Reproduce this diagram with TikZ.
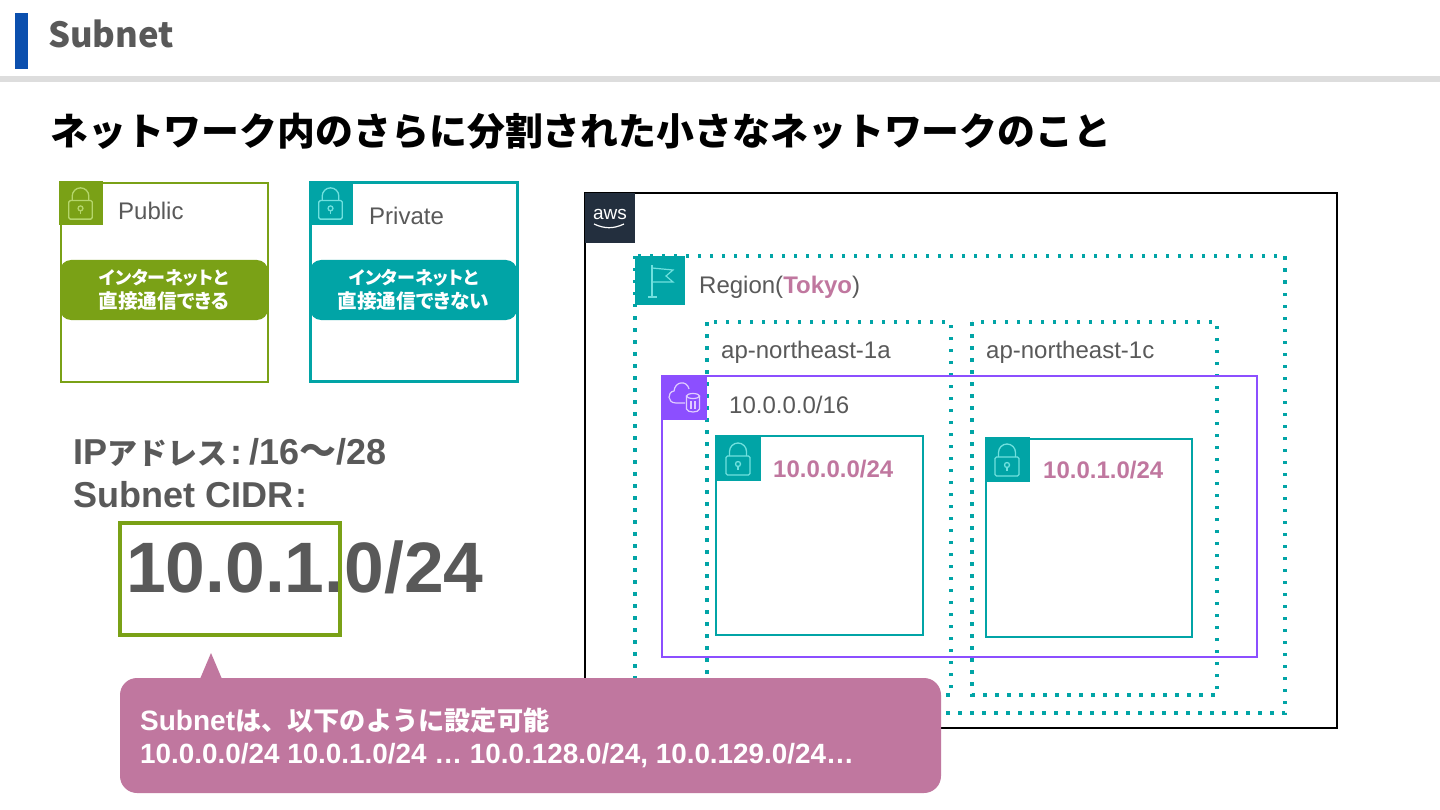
\documentclass[tikz,border=0pt]{standalone}
\usepackage{fontspec}
\setmainfont{Liberation Sans}
\newfontfamily\cjk{Noto Sans CJK JP}
\newfontfamily\cjkp[RawFeature=+palt]{Noto Sans CJK JP}
\definecolor{txtgray}{HTML}{595959}
\definecolor{barblue}{HTML}{0B4FAE}
\definecolor{rulegray}{HTML}{DDDDDD}
\definecolor{pubgreen}{HTML}{7AA116}
\definecolor{publock}{HTML}{B5D66B}
\definecolor{privteal}{HTML}{01A4A6}
\definecolor{privlock}{HTML}{70E0DE}
\definecolor{vpcviolet}{HTML}{8C4FFF}
\definecolor{vpcicon}{HTML}{E0CCFF}
\definecolor{awsnavy}{HTML}{232F3E}
\definecolor{calloutpink}{HTML}{C0779F}
\newcommand{\badgeone}{\fontsize{18}{24}\selectfont}
\newcommand{\badgetwo}{\fontsize{19.6}{24}\selectfont}
\tikzset{
	lockline/.style={line width=1.3pt},
	badge/.style={text=white, font=\cjkp\bfseries, align=center, inner sep=0pt},
	dotline/.style={privteal, line width=3.5pt, dash pattern=on 3.5pt off 8.5pt},
	boxlabel/.style={anchor=west, txtgray, font=\fontsize{24}{28}\selectfont, inner sep=0pt},
	cidrlabel/.style={anchor=west, calloutpink, font=\bfseries\fontsize{24}{28}\selectfont, inner sep=0pt},
}
% padlock inside a square tile, #1 = top left corner, #2 = tile size, #3 = tile colour, #4 = line colour
\newcommand{\locktile}[4]{
	\fill[#3] (#1) rectangle +(#2,#2);
	\begin{scope}[shift={(#1)}, x=#2pt/45, y=-#2pt/45, lockline, #4]
		\draw[rounded corners=1.5pt] (10,20) rectangle (34,39);
		\draw (13.5,20) -- (13.5,15.5) arc[start angle=180, end angle=360, x radius=8.5, y radius=8.5] -- (30.5,20);
		\draw (22,28) circle (2.5);
		\draw (22,30.5) -- (22,34);
	\end{scope}
}
\begin{document}
\begin{tikzpicture}[x=1pt, y=-1pt]
	\useasboundingbox (0,0) rectangle (1440,810);
	\fill[white] (0,0) rectangle (1440,810);
	% header
	\fill[barblue] (15,13) rectangle (28,69);
	\fill[rulegray] (0,76) rectangle (1440,82);
	\node[anchor=west, txtgray, font=\cjk\bfseries\fontsize{34.6}{40}\selectfont, inner sep=0pt] (title) at (48,34) {Subnet};
	\node[anchor=west, black, font=\cjk\bfseries\fontsize{37.9}{44}\selectfont, inner sep=0pt] (headline) at (50,131) {ネットワーク内のさらに分割された小さなネットワークのこと};
	% public and private legend
	\draw[pubgreen, line width=2pt] (61,183) rectangle (268,382);
	\locktile{59,181}{44}{pubgreen}{publock}
	\node[boxlabel] (publab) at (118,211) {Public};
	\fill[pubgreen, rounded corners=11pt] (60,260) rectangle (268,320);
	\node[badge] (pubbadge) at (164,290) {\badgeone インターネットと\\[4pt]\badgetwo 直接通信できる};
	\draw[privteal, line width=3pt] (310.5,183) rectangle (517,381.5);
	\locktile{309,181}{44}{privteal}{privlock}
	\node[boxlabel] (privlab) at (369,216) {Private};
	\fill[privteal, rounded corners=11pt] (310,260) rectangle (517,320);
	\node[badge] (privbadge) at (413.5,290) {\badgeone インターネットと\\[4pt]\badgetwo 直接通信できない};
	% address ranges
	\node[anchor=west, txtgray, font=\bfseries\fontsize{36}{40}\selectfont, inner sep=0pt] (iprange) at (73,452) {IP{\cjk\fontsize{30}{34}\selectfont アドレス}\hspace{3pt}:\hspace{7pt}/16{\cjk\fontsize{37}{34}\selectfont ～}/28};
	\node[anchor=west, txtgray, font=\bfseries\fontsize{36}{40}\selectfont, inner sep=0pt] (cidrtitle) at (73,495) {Subnet CIDR\hspace{2pt}:};
	\node[anchor=west, txtgray, font=\bfseries\fontsize{71.4}{80}\selectfont, inner sep=0pt] (cidrbig) at (126,567) {10.0.1.0/24};
	\draw[pubgreen, line width=4pt] (120,523) rectangle (340,635);
	% aws cloud
	\draw[black, line width=2pt] (585,193) rectangle (1337,728);
	\fill[awsnavy] (585,193) rectangle (635,243);
	\node[white, font=\fontsize{19}{20}\selectfont, inner sep=0pt] (awslab) at (610,214) {aws};
	\draw[white, line width=1.2pt] (594,224) to[bend right=25] (624,224);
	% region and zones
	\draw[dotline] (635,256) rectangle (1285,713);
	\fill[privteal] (635,256) rectangle (685,305);
	\draw[privlock, line width=1.2pt] (652,297) -- (652,265);
	\draw[privlock, line width=1.2pt] (652,268) -- (673,270) -- (666,276) -- (673,282) -- (652,282);
	\draw[privlock, line width=1.2pt] (648,297) -- (657,297);
	\node[boxlabel] (regionlab) at (699,287) {Region({\bfseries\textcolor{calloutpink}{Tokyo}})};
	\draw[dotline] (707,322) rectangle (951,695);
	\draw[dotline] (972,322) rectangle (1217,695);
	\node[boxlabel] (azalab) at (721,352) {ap-northeast-1a};
	\node[boxlabel] (azclab) at (986,352) {ap-northeast-1c};
	% vpc
	\draw[vpcviolet, line width=2pt] (662,376) rectangle (1257,657);
	\fill[vpcviolet] (662,376) rectangle (707,420);
	\draw[vpcicon, line width=1.2pt] (685,403) -- (676,403) .. controls (667,403) and (667,392) .. (674,391) .. controls (675,381) and (687,380) .. (689,389);
	\draw[vpcicon, line width=1.2pt] (693,396) ellipse (6.5 and 2.5);
	\draw[vpcicon, line width=1.2pt] (686.5,396) -- (686.5,409) .. controls (687,413) and (699,413) .. (699.5,409) -- (699.5,396);
	\draw[vpcicon, line width=1.2pt] (691,401) -- (691,409) (695,401) -- (695,409);
	\node[boxlabel] (vpclab) at (729,405) {10.0.0.0/16};
	% subnets
	\draw[privteal, line width=2pt] (716,436) rectangle (923,635);
	\locktile{716,436}{45}{privteal}{privlock}
	\node[cidrlabel] (suba) at (773,469) {10.0.0.0/24};
	\draw[privteal, line width=2pt] (986,439) rectangle (1192,637);
	\locktile{985,437}{45}{privteal}{privlock}
	\node[cidrlabel] (subc) at (1043,470) {10.0.1.0/24};
	% callout
	\fill[calloutpink, rounded corners=17pt] (120,678) rectangle (941,793);
	\fill[calloutpink] (200,679) -- (211,653) -- (222,679) -- cycle;
	\node[anchor=west, white, font=\bfseries\fontsize{28}{32}\selectfont, inner sep=0pt] (calloutone) at (140,721) {Subnet{\cjk\fontsize{26.2}{32}\selectfont は、以下のように設定可能}};
	\node[anchor=west, white, font=\bfseries\fontsize{27.85}{32}\selectfont, inner sep=0pt] (callouttwo) at (140,755.5) {10.0.0.0/24 10.0.1.0/24 … 10.0.128.0/24, 10.0.129.0/24…};
\end{tikzpicture}
\end{document}
